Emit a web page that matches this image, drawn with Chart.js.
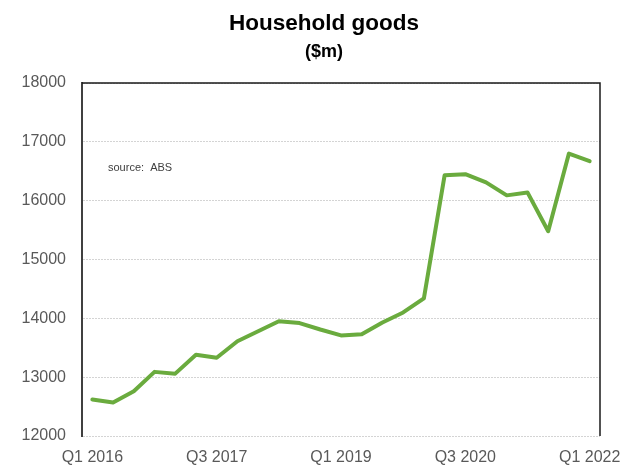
<!DOCTYPE html>
<html>
<head>
<meta charset="utf-8">
<title>Household goods</title>
<script src="https://cdn.jsdelivr.net/npm/chart.js@4"></script>
<style>
    body { margin: 0; background: #ffffff; }
    #wrap { width: 622px; height: 468px; }
</style>
</head>
<body>
<div id="wrap"><canvas id="ChartGoods"></canvas></div>
<script>
const quarters = [
    'Q1 2016', 'Q2 2016', 'Q3 2016', 'Q4 2016',
    'Q1 2017', 'Q2 2017', 'Q3 2017', 'Q4 2017',
    'Q1 2018', 'Q2 2018', 'Q3 2018', 'Q4 2018',
    'Q1 2019', 'Q2 2019', 'Q3 2019', 'Q4 2019',
    'Q1 2020', 'Q2 2020', 'Q3 2020', 'Q4 2020',
    'Q1 2021', 'Q2 2021', 'Q3 2021', 'Q4 2021',
    'Q1 2022'
];
const goodsValues = [
    12620, 12570, 12760, 13090,
    13060, 13380, 13330, 13610,
    13780, 13950, 13920, 13810,
    13710, 13730, 13930, 14100,
    14340, 16430, 16450, 16310,
    16090, 16140, 15480, 16800,
    16670
];
const shownQuarters = ['Q1 2016', 'Q3 2017', 'Q1 2019', 'Q3 2020', 'Q1 2022'];
const yTicks = [12000, 13000, 14000, 15000, 16000, 17000, 18000];

const font = "'Liberation Sans', Arial, sans-serif";

// heading, source note and the dark frame on top/right of the plot
const decorPlugin = {
    id: 'decor',
    afterDraw(chart) {
        const { ctx, chartArea: a } = chart;
        const midX = 324;
        ctx.save();
        ctx.fillStyle = '#000000';
        ctx.textAlign = 'center';
        ctx.textBaseline = 'alphabetic';
        ctx.font = "bold 22.5px " + font;
        ctx.fillText('Household goods', midX, 30);
        ctx.font = "bold 18px " + font;
        ctx.fillText('($m)', midX, 57);

        ctx.fillStyle = '#404040';
        ctx.textAlign = 'left';
        ctx.textBaseline = 'middle';
        ctx.font = "11px " + font;
        ctx.fillText('source:  ABS', a.left + 26, 168);

        ctx.strokeStyle = '#1a1a1a';
        ctx.lineWidth = 1.5;
        ctx.beginPath();
        ctx.moveTo(a.left, a.top);
        ctx.lineTo(a.right, a.top);
        ctx.lineTo(a.right, a.bottom);
        ctx.stroke();
        ctx.restore();
    }
};

new Chart(document.getElementById("ChartGoods"), {
    type: 'line',
    data: {
        labels: quarters,
        datasets: [{
            data: goodsValues,
            borderColor: '#6aab3e',
            borderWidth: 4,
            pointRadius: 0,
            tension: 0,
            borderJoinStyle: 'round',
            borderCapStyle: 'round'
        }]
    },
    options: {
        responsive: true,
        maintainAspectRatio: false,
        animation: false,
        layout: { padding: { left: 0, right: 22, top: 83, bottom: 0 } },
        plugins: {
            legend: { display: false },
            tooltip: { enabled: false },
            title: { display: false }
        },
        scales: {
            x: {
                offset: true,
                afterFit: scale => {
                    scale.height = 32;
                    scale.paddingRight = 0;
                    scale.paddingLeft = 0;
                },
                grid: { display: false, drawTicks: false },
                border: { display: false },
                ticks: {
                    autoSkip: false,
                    maxRotation: 0,
                    padding: 12,
                    color: '#595959',
                    font: { family: font, size: 16 },
                    callback: (v, i) => shownQuarters.includes(quarters[i]) ? quarters[i] : ''
                }
            },
            y: {
                min: 12000,
                max: 18000,
                afterFit: scale => { scale.width = 82; },
                afterBuildTicks: scale => { scale.ticks = yTicks.map(v => ({ value: v })); },
                grid: { color: '#d4d4d4', drawTicks: false, lineWidth: 1 },
                border: { color: '#404040', width: 2, dash: [2, 1] },
                ticks: {
                    padding: 16,
                    color: '#595959',
                    font: { family: font, size: 16 },
                    callback: v => String(v)
                }
            }
        }
    },
    plugins: [decorPlugin]
});
</script>
</body>
</html>
